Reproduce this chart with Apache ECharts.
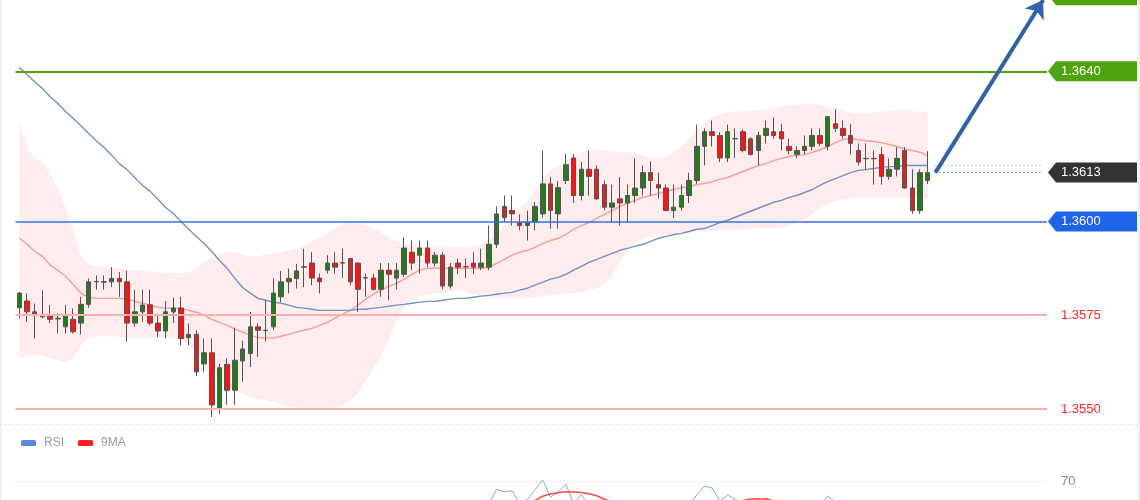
<!DOCTYPE html>
<html><head><meta charset="utf-8">
<script src="https://cdn.jsdelivr.net/npm/echarts@6/dist/echarts.min.js"></script>
<style>html,body{margin:0;padding:0;background:#fff}#c{width:1140px;height:500px}</style>
</head><body><div id="c"></div>
<script>
// ---- data ----
const categories = Array.from({length: 134}, (_, i) => String(i + 1));
// [open, close, low, high]
const candles = [
[1.35770,1.35809,1.35741,1.35812],[1.35788,1.35759,1.35732,1.35808],[1.35759,1.35749,1.35688,1.35781],[1.35752,1.35746,1.35741,1.35816],[1.35748,1.35739,1.35729,1.35777],
[1.35742,1.35740,1.35701,1.35754],[1.35719,1.35748,1.35701,1.35777],[1.35739,1.35706,1.35701,1.35768],[1.35729,1.35779,1.35699,1.35799],[1.35779,1.35839,1.35770,1.35848],
[1.35839,1.35840,1.35818,1.35856],[1.35839,1.35838,1.35818,1.35856],[1.35839,1.35848,1.35825,1.35878],[1.35848,1.35839,1.35799,1.35865],[1.35839,1.35729,1.35679,1.35868],
[1.35729,1.35759,1.35719,1.35818],[1.35759,1.35777,1.35732,1.35818],[1.35778,1.35729,1.35723,1.35818],[1.35729,1.35708,1.35691,1.35754],[1.35708,1.35759,1.35688,1.35788],
[1.35759,1.35769,1.35729,1.35797],[1.35769,1.35688,1.35670,1.35799],[1.35690,1.35699,1.35670,1.35728],[1.35699,1.35599,1.35588,1.35710],[1.35620,1.35650,1.35599,1.35688],
[1.35650,1.35511,1.35479,1.35688],[1.35499,1.35610,1.35488,1.35621],[1.35619,1.35550,1.35511,1.35635],[1.35550,1.35630,1.35511,1.35717],[1.35628,1.35660,1.35573,1.35682],
[1.35648,1.35719,1.35612,1.35759],[1.35719,1.35710,1.35639,1.35728],[1.35710,1.35709,1.35679,1.35790],[1.35719,1.35809,1.35710,1.35848],[1.35799,1.35839,1.35785,1.35868],
[1.35839,1.35848,1.35808,1.35874],[1.35848,1.35868,1.35821,1.35887],[1.35878,1.35879,1.35825,1.35927],[1.35889,1.35849,1.35830,1.35918],[1.35849,1.35839,1.35808,1.35861],
[1.35870,1.35889,1.35861,1.35910],[1.35889,1.35878,1.35861,1.35918],[1.35889,1.35890,1.35849,1.35927],[1.35901,1.35839,1.35830,1.35903],[1.35889,1.35819,1.35759,1.35891],
[1.35849,1.35850,1.35799,1.35861],[1.35849,1.35819,1.35816,1.35861],[1.35819,1.35870,1.35799,1.35889],[1.35870,1.35859,1.35790,1.35889],[1.35849,1.35870,1.35819,1.35889],
[1.35859,1.35929,1.35852,1.35958],[1.35918,1.35889,1.35870,1.35949],[1.35910,1.35929,1.35861,1.35949],[1.35929,1.35889,1.35878,1.35949],[1.35889,1.35910,1.35880,1.35918],
[1.35910,1.35828,1.35819,1.35918],[1.35828,1.35878,1.35821,1.35889],[1.35889,1.35878,1.35859,1.35901],[1.35880,1.35879,1.35849,1.35901],[1.35889,1.35878,1.35859,1.35918],
[1.35878,1.35889,1.35870,1.35927],[1.35878,1.35939,1.35870,1.35989],[1.35939,1.36020,1.35929,1.36040],[1.36040,1.36010,1.35998,1.36069],[1.36029,1.36020,1.35989,1.36069],
[1.35998,1.35989,1.35976,1.36019],[1.35989,1.35998,1.35949,1.36029],[1.35998,1.36040,1.35976,1.36051],[1.36020,1.36100,1.36010,1.36189],[1.36100,1.36029,1.35981,1.36118],
[1.36020,1.36090,1.35981,1.36107],[1.36109,1.36151,1.36100,1.36180],[1.36169,1.36069,1.36049,1.36180],[1.36069,1.36139,1.36056,1.36158],[1.36139,1.36120,1.36069,1.36189],
[1.36139,1.36060,1.36058,1.36149],[1.36098,1.36038,1.36029,1.36109],[1.36038,1.36049,1.35998,1.36098],[1.36060,1.36049,1.35989,1.36118],[1.36049,1.36069,1.35998,1.36098],
[1.36069,1.36089,1.36049,1.36168],[1.36089,1.36130,1.36069,1.36149],[1.36130,1.36109,1.36069,1.36160],[1.36098,1.36089,1.36060,1.36130],[1.36089,1.36029,1.36027,1.36098],
[1.36029,1.36038,1.36009,1.36098],[1.36038,1.36069,1.36029,1.36098],[1.36069,1.36109,1.36049,1.36130],[1.36109,1.36200,1.36100,1.36258],[1.36200,1.36239,1.36149,1.36248],
[1.36239,1.36229,1.36200,1.36269],[1.36229,1.36169,1.36158,1.36238],[1.36169,1.36239,1.36158,1.36258],[1.36220,1.36221,1.36169,1.36248],[1.36239,1.36189,1.36184,1.36245],
[1.36220,1.36178,1.36176,1.36224],[1.36189,1.36229,1.36149,1.36239],[1.36229,1.36248,1.36208,1.36269],[1.36239,1.36229,1.36220,1.36277],[1.36239,1.36220,1.36189,1.36260],
[1.36200,1.36189,1.36178,1.36220],[1.36178,1.36189,1.36169,1.36200],[1.36189,1.36200,1.36178,1.36229],[1.36200,1.36229,1.36189,1.36248],[1.36229,1.36208,1.36200,1.36248],
[1.36200,1.36279,1.36189,1.36281],[1.36260,1.36248,1.36239,1.36299],[1.36248,1.36229,1.36220,1.36269],[1.36229,1.36208,1.36178,1.36260],[1.36189,1.36158,1.36149,1.36208],
[1.36168,1.36167,1.36138,1.36208],[1.36168,1.36167,1.36098,1.36189],[1.36178,1.36120,1.36098,1.36198],[1.36120,1.36139,1.36111,1.36168],[1.36139,1.36168,1.36120,1.36198],
[1.36189,1.36089,1.36087,1.36198],[1.36089,1.36029,1.36020,1.36139],[1.36029,1.36130,1.36020,1.36139],[1.36109,1.36130,1.36100,1.36187]
];
const bbUpper = [
1.36263,1.36194,1.36170,1.36154,1.36128,1.36088,1.36035,1.35976,1.35907,1.35886,
1.35880,1.35880,1.35878,1.35875,1.35872,1.35870,1.35867,1.35867,1.35864,1.35864,
1.35862,1.35862,1.35864,1.35875,1.35891,1.35904,1.35912,1.35918,1.35918,1.35912,
1.35907,1.35907,1.35912,1.35915,1.35918,1.35923,1.35928,1.35936,1.35947,1.35957,
1.35968,1.35981,1.35992,1.35997,1.35995,1.35989,1.35981,1.35971,1.35957,1.35947,
1.35941,1.35936,1.35934,1.35934,1.35931,1.35931,1.35931,1.35931,1.35931,1.35934,
1.35939,1.35952,1.35968,1.35987,1.36011,1.36035,1.36056,1.36082,1.36114,1.36136,
1.36149,1.36162,1.36173,1.36184,1.36189,1.36189,1.36189,1.36186,1.36184,1.36184,
1.36181,1.36176,1.36170,1.36170,1.36173,1.36184,1.36199,1.36221,1.36239,1.36263,
1.36279,1.36285,1.36290,1.36293,1.36293,1.36295,1.36295,1.36298,1.36301,1.36306,
1.36309,1.36311,1.36314,1.36314,1.36311,1.36306,1.36301,1.36295,1.36290,1.36287,
1.36287,1.36290,1.36293,1.36295,1.36295,1.36295,1.36293,1.36293,1.36290];
const bbMiddle = [
1.35955,1.35939,1.35920,1.35907,1.35883,1.35870,1.35854,1.35832,1.35809,1.35798,
1.35795,1.35795,1.35795,1.35795,1.35793,1.35787,1.35782,1.35777,1.35771,1.35769,
1.35769,1.35769,1.35763,1.35758,1.35750,1.35739,1.35731,1.35723,1.35713,1.35705,
1.35697,1.35691,1.35689,1.35689,1.35694,1.35699,1.35705,1.35710,1.35715,1.35723,
1.35731,1.35742,1.35753,1.35763,1.35777,1.35793,1.35806,1.35817,1.35827,1.35835,
1.35846,1.35859,1.35870,1.35875,1.35875,1.35875,1.35875,1.35875,1.35875,1.35875,
1.35875,1.35878,1.35888,1.35899,1.35910,1.35918,1.35923,1.35931,1.35941,1.35949,
1.35955,1.35965,1.35979,1.35989,1.35997,1.36008,1.36019,1.36029,1.36040,1.36048,
1.36056,1.36064,1.36069,1.36074,1.36080,1.36085,1.36090,1.36093,1.36098,1.36101,
1.36106,1.36112,1.36117,1.36125,1.36133,1.36141,1.36149,1.36154,1.36162,1.36168,
1.36173,1.36176,1.36178,1.36184,1.36191,1.36199,1.36210,1.36218,1.36221,1.36218,
1.36215,1.36213,1.36210,1.36205,1.36199,1.36194,1.36189,1.36184,1.36176];
const bbLower = [
1.35636,1.35641,1.35644,1.35641,1.35636,1.35630,1.35625,1.35636,1.35670,1.35691,
1.35694,1.35694,1.35694,1.35691,1.35691,1.35691,1.35691,1.35691,1.35691,1.35691,
1.35689,1.35684,1.35670,1.35652,1.35630,1.35609,1.35585,1.35566,1.35551,1.35540,
1.35532,1.35527,1.35524,1.35519,1.35513,1.35508,1.35505,1.35503,1.35503,1.35503,
1.35503,1.35505,1.35511,1.35521,1.35545,1.35577,1.35609,1.35641,1.35684,1.35737,
1.35769,1.35790,1.35801,1.35806,1.35809,1.35811,1.35814,1.35817,1.35811,1.35806,
1.35801,1.35798,1.35795,1.35795,1.35795,1.35795,1.35795,1.35798,1.35801,1.35803,
1.35806,1.35809,1.35809,1.35811,1.35817,1.35822,1.35832,1.35856,1.35891,1.35923,
1.35944,1.35955,1.35960,1.35963,1.35965,1.35968,1.35971,1.35971,1.35973,1.35973,
1.35976,1.35976,1.35976,1.35976,1.35979,1.35979,1.35981,1.35981,1.35981,1.35984,
1.35989,1.35997,1.36008,1.36021,1.36035,1.36045,1.36053,1.36059,1.36061,1.36064,
1.36064,1.36064,1.36064,1.36064,1.36064,1.36064,1.36061,1.36061,1.36061];
const maLong = [
1.36410,1.36391,1.36372,1.36354,1.36332,1.36314,1.36293,1.36274,1.36255,1.36234,
1.36215,1.36197,1.36176,1.36154,1.36138,1.36117,1.36096,1.36080,1.36059,1.36037,
1.36021,1.36000,1.35979,1.35960,1.35941,1.35920,1.35896,1.35875,1.35848,1.35824,
1.35809,1.35795,1.35790,1.35785,1.35782,1.35777,1.35771,1.35769,1.35766,1.35763,
1.35763,1.35763,1.35763,1.35763,1.35766,1.35766,1.35769,1.35771,1.35774,1.35777,
1.35779,1.35782,1.35785,1.35787,1.35787,1.35790,1.35793,1.35795,1.35795,1.35798,
1.35801,1.35803,1.35806,1.35809,1.35811,1.35817,1.35822,1.35830,1.35838,1.35846,
1.35851,1.35859,1.35870,1.35880,1.35891,1.35899,1.35907,1.35915,1.35923,1.35928,
1.35934,1.35939,1.35947,1.35955,1.35960,1.35965,1.35968,1.35973,1.35979,1.35981,
1.35989,1.35997,1.36003,1.36011,1.36019,1.36027,1.36035,1.36043,1.36051,1.36056,
1.36064,1.36069,1.36077,1.36085,1.36096,1.36106,1.36114,1.36122,1.36130,1.36136,
1.36138,1.36141,1.36144,1.36146,1.36146,1.36149,1.36149,1.36149,1.36149];
const rsi = [
45,42,38,36,35,34,38,35,45,53,
53,53,54,54,40,44,46,40,38,45,
47,38,39,30,35,25,40,35,44,48,
53,52,52,57,57,57,57,57,54,53,
55,54,55,50,46,48,46,52,51,52,
57,54,56,52,54,46,51,50,50,50,
51,56,64.8,63.3,63.9,56,58.5,64.5,70.6,60,
63,67.9,56,61.5,55,52,50,51,50,52,
54,57,54,53,48,49,52,55,61.3,66.9,
65.6,57.5,61.3,58.5,56,54,55,59.4,57,55,
52,53,54,56,54,60.6,57,55,52,49,
49,49,45,47,50,42,36,48,50];
const rsiMA = [
44,43,42,41,40,39,38,38,38,40,
42,43,45,47,46,46,46,45,44,44,
44,43,42,41,40,38,37,36,36,36,
37,39,41,44,47,50,52,53,54,55,
55,55,55,54,53,52,51,51,50,50,
51,51,52,52,53,52,52,52,52,51,
51,52,53,54,55,55.5,56.5,57.8,60.5,62,
62.7,63.3,63.2,62.8,62,60.8,58.6,57,56,55,
54,53,53,52,52,52,52,53,54,55,
56,56.5,57,57.5,57.8,58.7,58.9,58.7,57.6,57,
56.5,56,55.5,55,55,55.5,55.5,55,54.5,54,
53,52,51,50,49,47,47,47,47];
const levelValues = [1.3640, 1.3600, 1.3575, 1.3550];
const levelLabels = ['1.3640', '1.3600', '1.3575', '1.3550'];
const lastPrice = 1.3613;
const lastPriceLabel = '1.3613';
const targetPrice = 1.3659;
const rsiLevel = 70;

// ---- chart ----
const FONT = '"Liberation Sans", Arial, sans-serif';
const lastIdx = candles.length - 1;
const bbWidth = bbUpper.map((u, i) => +(u - bbLower[i]).toFixed(6));
const chart = echarts.init(document.getElementById('c'), null, {renderer: 'canvas'});
const gridLeft = 15.5, gridW = 1031.5;
chart.setOption({
  animation: false,
  backgroundColor: '#ffffff',
  grid: [
    {left: gridLeft, width: gridW, top: -0.84, height: 424.88},
    {left: gridLeft, width: gridW, top: 433, height: 67}
  ],
  xAxis: [
    {type: 'category', data: categories, boundaryGap: true, show: false, gridIndex: 0},
    {type: 'category', data: categories, boundaryGap: true, show: false, gridIndex: 1}
  ],
  yAxis: [
    {type: 'value', min: 1.3546, max: 1.3659, show: false, gridIndex: 0, splitLine: {show: false}},
    {type: 'value', min: 58.125, max: 100, show: false, gridIndex: 1, splitLine: {show: false}}
  ],
  legend: {
    left: 16, top: 432, itemWidth: 15, itemHeight: 6, itemGap: 14, icon: 'roundRect',
    textStyle: {color: '#9a9a9a', fontSize: 12, fontFamily: FONT, padding: [0, 0, 0, 3]},
    data: [{name: 'RSI', itemStyle: {color: '#5b89e2'}}, {name: '9MA', itemStyle: {color: '#ff1f1f'}}],
    selectedMode: false
  },
  series: [
    {type: 'line', name: 'bbLow', data: bbLower, stack: 'bb', symbol: 'none', silent: true,
     lineStyle: {opacity: 0}, z: 1},
    {type: 'line', name: 'bbBand', data: bbWidth, stack: 'bb', symbol: 'none', silent: true,
     lineStyle: {opacity: 0}, areaStyle: {color: 'rgba(255,170,170,0.32)'}, z: 1},
    {type: 'line', name: 'mid', data: bbMiddle, symbol: 'none', silent: true,
     lineStyle: {color: '#f59c9c', width: 1.4}, z: 2},
    {type: 'line', name: 'maLong', data: maLong, symbol: 'none', silent: true,
     lineStyle: {color: '#7191c9', width: 1.4}, z: 2,
     markLine: {
       silent: true, precision: 5, symbol: ['none', 'none'], label: {show: false}, animation: false,
       data: [
         {yAxis: levelValues[0], lineStyle: {color: '#4ea40f', width: 2, type: 'solid'}},
         {yAxis: levelValues[1], lineStyle: {color: '#3a71dc', width: 1.5, type: 'solid'}},
         {yAxis: levelValues[2], lineStyle: {color: '#ffb0b0', width: 2, type: 'solid'}},
         {yAxis: levelValues[3], lineStyle: {color: '#ffb0b0', width: 2, type: 'solid'}},
         [{coord: [lastIdx + 1, maLong[lastIdx]], lineStyle: {color: '#7d97c6', width: 1, type: [1, 3]}},
          {coord: [133, maLong[lastIdx]]}],
         [{coord: [lastIdx + 1, lastPrice], lineStyle: {color: '#444444', width: 1, type: [1, 3]}},
          {coord: [133, lastPrice]}]
       ]
     }},
    {type: 'candlestick', name: 'price', data: candles, barWidth: 5, z: 3,
     itemStyle: {color: '#1f7d1f', color0: '#ff1414', borderColor: '#5e5050', borderColor0: '#5e5050', borderColorDoji: '#5e5050', borderWidth: 1},
     markLine: {
       silent: true, precision: 5, symbol: ['none', 'none'], label: {show: false}, animation: false,
       data: [
         [{coord: [lastIdx + 1, lastPrice], symbol: 'none', lineStyle: {color: '#2f62a8', width: 4, type: 'solid'}},
          {coord: [133, targetPrice], symbol: 'arrow', symbolSize: 17}]
       ]
     }},
    {type: 'line', name: 'RSI', data: rsi, xAxisIndex: 1, yAxisIndex: 1, symbol: 'none',
     lineStyle: {color: '#86a4e6', width: 1}, z: 2,
     markLine: {silent: true, symbol: ['none', 'none'], label: {show: false},
       data: [{yAxis: rsiLevel, lineStyle: {color: '#c5cfe2', width: 1, type: [1, 3]}}]}},
    {type: 'line', name: '9MA', data: rsiMA, xAxisIndex: 1, yAxisIndex: 1, symbol: 'none',
     lineStyle: {color: '#ff4a4a', width: 1.5}, z: 2}
  ]
});

// ---- right-side price tags ----
const yp = v => chart.convertToPixel({yAxisIndex: 0}, v);
function tagShape(y, color) {
  return {type: 'polygon', z: 100, silent: true,
    shape: {points: [[1048, y], [1056, y - 10], [1137, y - 10], [1137, y + 10], [1056, y + 10]]},
    style: {fill: color}};
}
function tagText(y, text, color) {
  return {type: 'text', z: 101, silent: true, x: 1061, y: y,
    style: {text: text, fill: color, font: '13px ' + FONT, textVerticalAlign: 'middle', verticalAlign: 'middle'}};
}
const yTop = yp(levelValues[0]) - (yp(levelValues[1]) - yp(levelValues[0])) * 0.507;
const g = [
  {type: 'rect', silent: true, shape: {x: 0, y: 0, width: 2, height: 500}, style: {fill: '#edf1f6'}},
  {type: 'rect', silent: true, shape: {x: 1137.5, y: 0, width: 2.5, height: 500}, style: {fill: '#eef1f5'}},
  {type: 'line', silent: true, shape: {x1: 0, y1: 424.5, x2: 1140, y2: 424.5},
   style: {stroke: '#d6d6d6', lineWidth: 1, lineDash: [1, 3]}},
  tagShape(yTop, '#4fa30f'),
  tagShape(yp(levelValues[0]), '#4fa30f'), tagText(yp(levelValues[0]), levelLabels[0], '#ffffff'),
  tagShape(yp(lastPrice), '#333333'), tagText(yp(lastPrice), lastPriceLabel, '#ffffff'),
  tagShape(yp(levelValues[1]), '#1f63ea'), tagText(yp(levelValues[1]), levelLabels[1], '#ffffff'),
  tagText(yp(levelValues[2]), levelLabels[2], '#ff2b2b'),
  tagText(yp(levelValues[3]), levelLabels[3], '#ff2b2b'),
  tagText(chart.convertToPixel({yAxisIndex: 1}, rsiLevel), String(rsiLevel), '#8a8a8a')
];
chart.setOption({graphic: g});
</script>
</body></html>
